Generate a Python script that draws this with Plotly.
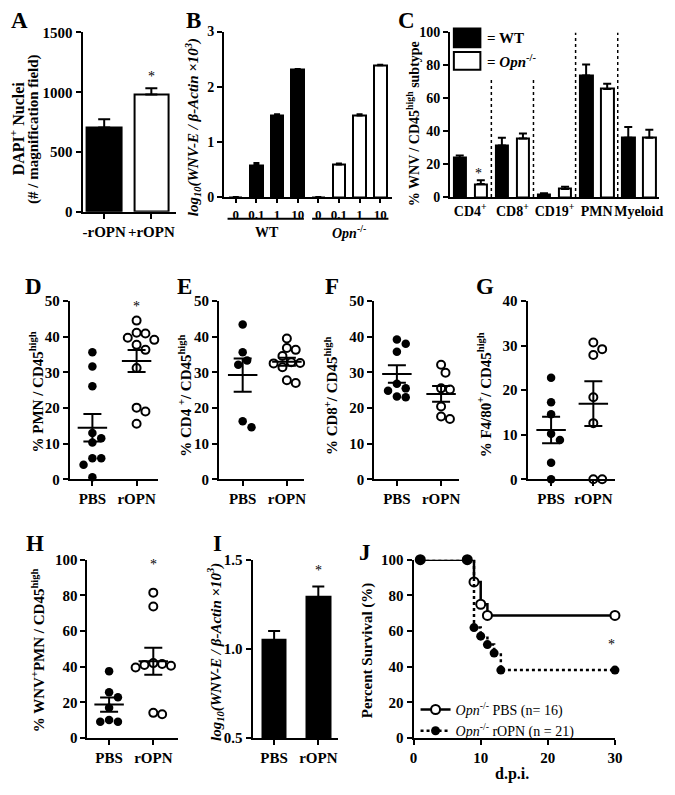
import numpy as np
import plotly.graph_objects as go

W, H = 675, 795
SERIF = "Liberation Serif"

# ---------------- Data ----------------
A_cats = ["-rOPN", "+rOPN"]
A_vals = [705, 982]
A_err = [70, 52]

B_doses = ["0", "0.1", "1", "10"]
B_groups = ["WT", "<i>Opn</i><sup>-/-</sup>"]
B_wt = [0, 0.58, 1.48, 2.31]
B_wt_err = [0, 0.04, 0.02, 0.01]
B_ko = [0, 0.59, 1.48, 2.39]
B_ko_err = [0, 0.02, 0.02, 0.01]

C_cats = ["CD4<sup>+</sup>", "CD8<sup>+</sup>", "CD19<sup>+</sup>", "PMN", "Myeloid"]
C_wt = [23.8, 31.3, 1.6, 73.9, 36.0]
C_wt_err = [1.5, 4.7, 0.8, 6.7, 6.6]
C_ko = [7.9, 35.6, 5.0, 65.7, 36.0]
C_ko_err = [2.4, 3.0, 1.3, 3.2, 5.0]

strip_cats = ["PBS", "rOPN"]
D_pbs = [35.6, 31.6, 26.1, 13.0, 11.5, 10.3, 5.9, 5.9, 4.1, 0.6]
D_ropn = [44.5, 41.1, 40.9, 39.7, 39.1, 37.7, 36.3, 31.2, 20.1, 19.0, 15.6]
E_pbs = [43.4, 35.6, 33.3, 32.1, 16.3, 14.6]
E_ropn = [39.5, 36.8, 36.3, 34.6, 32.8, 32.6, 32.5, 31.4, 31.2, 27.8, 27.0]
F_pbs = [39.2, 38.0, 35.8, 26.8, 25.5, 24.8, 23.2, 23.0]
F_ropn = [32.1, 29.9, 25.5, 25.2, 20.4, 17.6, 16.9]
G_pbs = [22.8, 17.3, 14.6, 10.2, 8.8, 3.7, 0.0]
G_ropn = [30.7, 29.2, 27.9, 18.4, 12.6, 0.0, 0.0]
H_pbs = [37.5, 25.6, 22.9, 17.0, 10.1, 9.1, 9.1]
H_ropn = [81.5, 73.7, 42.0, 41.5, 41.0, 40.5, 39.5, 14.1, 13.3]

I_cats = ["PBS", "rOPN"]
I_vals = [1.05, 1.29]
I_err = [0.05, 0.06]

J_pbs_day = [1, 8, 9, 10, 11, 30]
J_pbs_surv = [100, 100, 87.5, 75, 68.75, 68.75]
J_ropn_day = [1, 8, 9, 10, 11, 12, 13, 30]
J_ropn_surv = [100, 100, 61.9, 57.1, 52.4, 47.6, 38.1, 38.1]
J_names = ["<i>Opn</i><sup>-/-</sup> PBS (n= 16)", "<i>Opn</i><sup>-/-</sup> rOPN (n = 21)"]

# ---------------- Layout helpers ----------------
def ax(p):
    return p / W


def ay(p):
    return 1 - p / H


P = [
    dict(k='A', px=(80, 175), py=(208, 25), yr=[0, 1500], c=(102, 150, 1), dt=500),
    dict(k='B', px=(224, 395), py=(193, 24), yr=[0, 3], c=(236, 383, 7), dt=1),
    dict(k='C', px=(454, 667), py=(193, 25), yr=[0, 100], c=(464, 657, 9), dt=20),
    dict(k='D', px=(67, 157), py=(481, 299), yr=[0, 50], c=(90, 135, 1), dt=10),
    dict(k='E', px=(219, 305), py=(481, 299), yr=[0, 50], c=(243, 288, 1), dt=10),
    dict(k='F', px=(377, 463), py=(481, 299), yr=[0, 50], c=(400, 445, 1), dt=10),
    dict(k='G', px=(533, 622), py=(481, 299), yr=[0, 40], c=(557, 600, 1), dt=10),
    dict(k='H', px=(85, 177), py=(745, 563), yr=[0, 100], c=(107, 152, 1), dt=20),
    dict(k='I', px=(253, 340), py=(745, 563), yr=[0.5, 1.5], c=(275, 320, 1), dt=0.5),
    dict(k='J', px=(417, 622), py=(745, 563), yr=[0, 100], xr=[0, 30], dt=20, dtx=10),
]

tickfont = dict(family=SERIF, size=15, color='black', weight='bold')
common = dict(showline=True, linecolor='black', linewidth=2, ticks='outside', ticklen=5,
              tickwidth=2, tickcolor='black', showgrid=False, zeroline=False,
              tickfont=tickfont, fixedrange=True)

layout = dict(width=W, height=H, margin=dict(l=0, r=0, t=0, b=0),
              paper_bgcolor='white', plot_bgcolor='rgba(0,0,0,0)', showlegend=True,
              bargap=0)
ids = {}
scale = {}
for i, p in enumerate(P, start=1):
    xn = 'xaxis' if i == 1 else f'xaxis{i}'
    yn = 'yaxis' if i == 1 else f'yaxis{i}'
    xid = 'x' if i == 1 else f'x{i}'
    yid = 'y' if i == 1 else f'y{i}'
    ids[p['k']] = (xid, yid)
    if 'xr' in p:
        xr = p['xr']
        s = (p['px'][1] - p['px'][0]) / (xr[1] - xr[0])
    else:
        c0, c1, n = p['c']
        s = (c1 - c0) / n
        xr = [-(c0 - p['px'][0]) / s, (p['px'][1] - c0) / s]
    sy = (p['py'][0] - p['py'][1]) / (p['yr'][1] - p['yr'][0])
    scale[p['k']] = (s, sy)
    xa = dict(common, domain=[ax(p['px'][0]), ax(p['px'][1])], range=xr, anchor=yid, tickangle=0)
    ya = dict(common, domain=[ay(p['py'][0]), ay(p['py'][1])], range=p['yr'], anchor=xid,
              dtick=p['dt'], tick0=p['yr'][0])
    if 'dtx' in p:
        xa.update(dtick=p['dtx'], tick0=0)
    layout[xn] = xa
    layout[yn] = ya

# category ticks
layout['xaxis'].update(tickvals=[0, 1], ticktext=A_cats)
layout['xaxis2'].update(tickvals=list(range(8)), ticktext=B_doses * 2, ticklen=4,
                        tickfont=dict(tickfont, size=13))
layout['yaxis2'].update(tickfont=dict(tickfont, size=14))
layout['xaxis3'].update(tickvals=[0.5, 2.5, 4.5, 6.5, 8.5], ticktext=C_cats, ticks='',
                        tickfont=dict(tickfont, size=14))
layout['yaxis3'].update(tickfont=dict(tickfont, size=14))
for k in 'DEFGH':
    idx = 'ABCDEFGHIJ'.index(k) + 1
    layout[f'xaxis{idx}'].update(tickvals=[0, 1], ticktext=strip_cats)
layout['xaxis9'].update(tickvals=[0, 1], ticktext=I_cats)
layout['yaxis9'].update(tickformat='.1f')

fig = go.Figure(layout=layout)


def bar(k, x, y, err, fill, width, cap):
    xid, yid = ids[k]
    fig.add_trace(go.Bar(
        x=x, y=y, width=width, xaxis=xid, yaxis=yid, showlegend=False,
        marker=dict(color=fill, line=dict(color='black', width=2)),
        error_y=dict(type='data', symmetric=False, array=err, arrayminus=[0] * len(err),
                     color='black', thickness=2, width=cap)))


# A
bar('A', [0, 1], A_vals, A_err, ['black', 'white'], 0.73, 6)
# B
bar('B', list(range(4)), B_wt, B_wt_err, 'black', 0.62, 3)
bar('B', list(range(4, 8)), B_ko, B_ko_err, 'white', 0.62, 3)
# C
bar('C', [0, 2, 4, 6, 8], C_wt, C_wt_err, 'black', 0.6, 4)
bar('C', [1, 3, 5, 7, 9], C_ko, C_ko_err, 'white', 0.6, 4)
# I
bar('I', [0, 1], I_vals, I_err, 'black', 0.53, 6)


def swarm(vals, ppu_y, ppu_x, d=9.0):
    vals = np.asarray(vals, dtype=float)
    order = np.argsort(-vals, kind='stable')
    placed = []
    off = np.zeros(len(vals))
    cands = [0.0]
    for j in range(1, 14):
        cands += [j * d / 2, -j * d / 2]
    for i in order:
        yy = vals[i] * ppu_y
        for c in cands:
            if all((c - a) ** 2 + (yy - b) ** 2 >= d * d for a, b in placed):
                placed.append((c, yy))
                off[i] = c / ppu_x
                break
    return off


strips = {'D': (D_pbs, D_ropn), 'E': (E_pbs, E_ropn), 'F': (F_pbs, F_ropn),
          'G': (G_pbs, G_ropn), 'H': (H_pbs, H_ropn)}
for k, groups in strips.items():
    xid, yid = ids[k]
    sx, sy = scale[k]
    for g, vals in enumerate(groups):
        off = swarm(vals, sy, sx)
        filled = g == 0
        fig.add_trace(go.Scatter(
            x=g + off, y=vals, mode='markers', xaxis=xid, yaxis=yid, showlegend=False,
            cliponaxis=False,
            marker=dict(size=8.5 if filled else 8, color='black' if filled else 'white',
                        line=dict(color='black', width=0 if filled else 2))))
        m = float(np.mean(vals))
        sem = float(np.std(vals, ddof=1) / np.sqrt(len(vals)))
        hw = 15 / sx
        fig.add_trace(go.Scatter(x=[g - hw, g + hw], y=[m, m], mode='lines', xaxis=xid, yaxis=yid,
                                 showlegend=False, line=dict(color='black', width=2)))
        fig.add_trace(go.Scatter(x=[g], y=[m], mode='markers', xaxis=xid, yaxis=yid, showlegend=False,
                                 marker=dict(size=1, color='rgba(0,0,0,0)'),
                                 error_y=dict(type='data', array=[sem], color='black', thickness=2,
                                              width=9)))

# J survival
xid, yid = ids['J']
fig.add_trace(go.Scatter(x=J_pbs_day, y=J_pbs_surv, mode='lines+markers', line_shape='hv',
                         name=J_names[0], xaxis=xid, yaxis=yid, cliponaxis=False,
                         line=dict(color='black', width=2.5),
                         marker=dict(size=9, color='white', line=dict(color='black', width=2))))
fig.add_trace(go.Scatter(x=J_ropn_day, y=J_ropn_surv, mode='lines+markers', line_shape='hv',
                         name=J_names[1], xaxis=xid, yaxis=yid, cliponaxis=False,
                         line=dict(color='black', width=2.5, dash='dot'),
                         marker=dict(size=9, color='black')))
fig.update_layout(legend=dict(x=ax(419), y=ay(700), xanchor='left', yanchor='top',
                              font=dict(family=SERIF, size=14, color='black'),
                              bgcolor='rgba(0,0,0,0)', itemwidth=30, tracegroupgap=0))

# ---------------- Annotations ----------------
ann = []


def text(x, y, t, size=13, angle=0, weight='bold', xanchor='center', xref='paper', yref='paper'):
    ann.append(dict(x=x, y=y, xref=xref, yref=yref, text=t, showarrow=False, textangle=angle,
                    xanchor=xanchor, yanchor='middle',
                    font=dict(family=SERIF, size=size, color='black', weight=weight)))


# panel letters
for L, (x, y) in {'A': (16, 13), 'B': (193, 13), 'C': (410, 13), 'D': (30, 284), 'E': (184, 284),
                  'F': (334, 284), 'G': (490, 284), 'H': (32, 546), 'I': (217, 546),
                  'J': (368, 556)}.items():
    text(ax(x), ay(y), L, size=23)

# axis titles
text(ax(13), ay(123), "DAPI<sup>+</sup> Nuclei", size=16, angle=-90)
text(ax(30), ay(123), "(# / magnification field)", size=15, angle=-90)
text(ax(192), ay(122), "<i>log<sub>10</sub>(WNV-E / β-Actin ×10<sup>3</sup>)</i>", size=15, angle=-90)
text(ax(416), ay(118), "% WNV / CD45<sup>high</sup> subtype", size=14, angle=-90)
text(ax(33), ay(392), "% PMN / CD45<sup>high</sup>", size=15, angle=-90)
text(ax(184), ay(396), "% CD4 <sup>+</sup>/ CD45<sup>high</sup>", size=15, angle=-90)
text(ax(333), ay(396), "% CD8<sup>+</sup>/ CD45<sup>high</sup>", size=15, angle=-90)
text(ax(489), ay(395), "% F4/80<sup>+</sup>/ CD45<sup>high</sup>", size=15, angle=-90)
text(ax(34), ay(655), "% WNV<sup>+</sup>PMN / CD45<sup>high</sup>", size=15, angle=-90)
text(ax(215), ay(657), "<i>log<sub>10</sub>(WNV-E / β-Actin ×10<sup>3</sup>)</i>", size=15, angle=-90)
text(ax(370), ay(655), "Percent Survival (%)", size=15, angle=-90)
text(ax(517), ay(782), "d.p.i.", size=16)

# B group labels
bx, _ = ids['B']
for gi, lab in enumerate(B_groups):
    text(1.5 + 4 * gi, ay(229), lab, size=14, xref=bx)

# significance stars
for x, y in [(150, 70), (483, 169), (135, 305), (152, 568), (320, 574), (619, 650)]:
    text(ax(x), ay(y), "*", size=14, weight='normal')

# C legend text
text(ax(490), ay(31), "= WT", size=15, xanchor='left')
text(ax(490), ay(54), "= <i>Opn</i><sup>-/-</sup>", size=15, xanchor='left')

fig.update_layout(annotations=ann)

# ---------------- Shapes ----------------
shapes = []
# B group underlines
for x0, x1 in [(-0.4, 3.3), (3.7, 7.4)]:
    shapes.append(dict(type='line', xref=bx, yref='paper', x0=x0, x1=x1, y0=ay(215), y1=ay(215),
                       line=dict(color='black', width=2)))
# C dotted separators
cx, cy = ids['C']
for xs, top in [(1.5, 73), (3.5, 73), (5.5, 100), (7.5, 100)]:
    shapes.append(dict(type='line', xref=cx, yref=cy, x0=xs, x1=xs, y0=0, y1=top,
                       line=dict(color='black', width=1.5, dash='dot')))
# C legend boxes
shapes.append(dict(type='rect', xref='paper', yref='paper', x0=ax(458), x1=ax(485), y0=ay(40), y1=ay(21),
                   fillcolor='black', line=dict(color='black', width=2)))
shapes.append(dict(type='rect', xref='paper', yref='paper', x0=ax(458), x1=ax(485), y0=ay(63), y1=ay(45),
                   fillcolor='white', line=dict(color='black', width=2)))
fig.update_layout(shapes=shapes)

fig.write_html("out.html", config={'displayModeBar': False},
               post_script="document.body.style.margin='0';document.body.style.overflow='hidden';")
